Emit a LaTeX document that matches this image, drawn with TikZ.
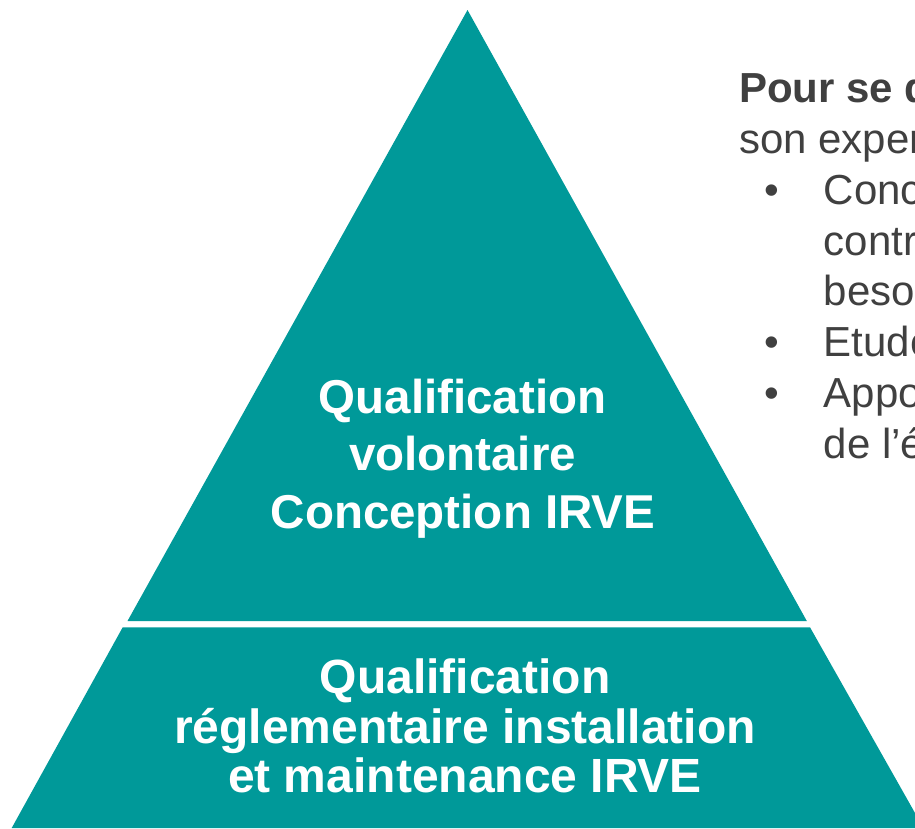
\documentclass[tikz,border=0pt]{standalone}
\usepackage{fontspec}
\setmainfont{Liberation Sans}
\definecolor{pyrteal}{RGB}{0,153,153}
\definecolor{txtgray}{RGB}{64,64,64}
\begin{document}
\begin{tikzpicture}[x=1pt,y=-1pt,
  layer/.style={fill=pyrteal,draw=none},
  wtxt/.style={text=white,font=\bfseries\fontsize{47.5}{56}\selectfont,inner sep=0pt,anchor=base},
  wtxtl/.style={wtxt,font=\bfseries\fontsize{48}{56}\selectfont},
  rtxt/.style={text=txtgray,font=\fontsize{42}{50}\selectfont,inner sep=0pt,anchor=base west},
  rbold/.style={rtxt,font=\bfseries\fontsize{42}{50}\selectfont},
  bul/.style={text=txtgray,font=\fontsize{42}{50}\selectfont,inner sep=0pt,anchor=base}]
\useasboundingbox (0,0) rectangle (915,828);
\clip (0,0) rectangle (915,828);
\fill[white] (0,0) rectangle (915,828);
% pyramid
\path[layer] (467.5,10) -- (127.5,621) -- (806.8,621) -- cycle;
\path[layer] (122.7,627.3) -- (810,627.3) -- (923.5,828) -- (11.7,828) -- cycle;
% upper text
\node[wtxt] (u1) at (462.5,413) {Qualification};
\node[wtxt] (u2) at (462.5,470.5) {volontaire};
\node[wtxt] (u3) at (463,528) {Conception IRVE};
% lower text
\node[wtxtl] (l1) at (465,693.3) {Qualification};
\node[wtxtl] (l2) at (465,743.3) {réglementaire installation};
\node[wtxtl] (l3) at (465,792.3) {et maintenance IRVE};
% right text
\node[rbold] (r1) at (739,102.7) {Pour se d};
\node[rtxt] (r2) at (739,153.5) {son exper};
\node[bul] (b1) at (771.7,204.3) {•};
\node[rtxt] (r3) at (823.5,204.3) {Conc};
\node[rtxt] (r4) at (823.5,255.1) {contr};
\node[rtxt] (r5) at (823.5,305.9) {beso};
\node[bul] (b2) at (771.7,356.7) {•};
\node[rtxt] (r6) at (823.5,356.7) {Etude};
\node[bul] (b3) at (771.7,407.5) {•};
\node[rtxt] (r7) at (823.5,407.5) {Appo};
\node[rtxt] (r8) at (823.5,458.3) {de l’é};
\end{tikzpicture}
\end{document}
